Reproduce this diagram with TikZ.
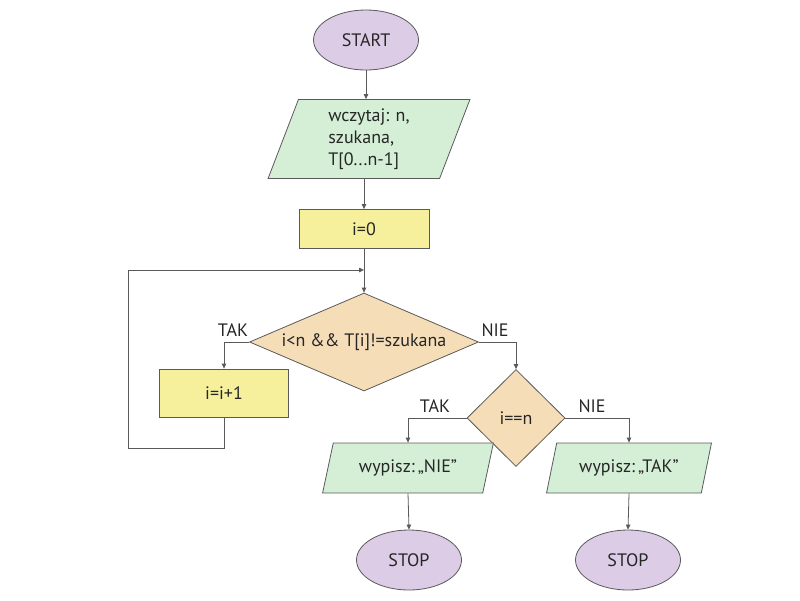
\documentclass[tikz,border=0pt]{standalone}
\usepackage{fontspec}
\setmainfont{PT Sans}
\usetikzlibrary{shapes.geometric,arrows.meta}
\definecolor{lin}{HTML}{5A5A5A}
\definecolor{term}{HTML}{DCCCE6}
\definecolor{io}{HTML}{D4EFD6}
\definecolor{proc}{HTML}{F6F09C}
\definecolor{dec}{HTML}{F5DDB8}
\tikzset{
  base/.style={draw=lin, line width=0.8pt, font=\fontsize{18}{22}\selectfont, text=black!85, inner sep=0pt},
  termbox/.style={base, ellipse, fill=term, minimum width=105pt, minimum height=60pt},
  iobox/.style={base, trapezium, trapezium stretches=true, fill=io},
  procbox/.style={base, rectangle, fill=proc, minimum width=130pt, minimum height=39pt},
  decbox/.style={base, diamond, fill=dec},
  arr/.style={draw=lin, line width=0.8pt, -{Triangle[length=5pt,width=4.5pt]}},
  ln/.style={draw=lin, line width=0.8pt},
  lbl/.style={font=\fontsize{18}{22}\selectfont, text=black!85, inner sep=1pt}
}
\begin{document}
\begin{tikzpicture}[x=1pt,y=-1pt]
\useasboundingbox (0,0) rectangle (800,600);
\node[termbox] (start) at (366,40) {START};
\node[iobox, trapezium left angle=74, trapezium right angle=106, minimum width=202pt, minimum height=79pt, align=left] (input) at (369,139) {wczytaj: n,\\szukana,\\T[0...n-1]};
\node[procbox] (init) at (364,229) {i=0};
\node[decbox, shape aspect=2.34, minimum width=229pt, minimum height=98pt] (d1) at (364,342) {i<n \&\& T[i]!=szukana};
\node[procbox, minimum width=129pt, minimum height=48pt] (inc) at (224,393) {i=i+1};
\node[decbox, shape aspect=1, minimum width=98pt, minimum height=97pt] (d2) at (516,418) {i==n};
\node[iobox, trapezium left angle=67, trapezium right angle=113, minimum width=171pt, minimum height=50pt] (outN) at (408,468) {wypisz:\,„NIE”};
\node[iobox, trapezium left angle=67, trapezium right angle=113, minimum width=165pt, minimum height=50pt] (outT) at (629,468) {wypisz:\,„TAK”};
\node[termbox] (stop1) at (409,560) {STOP};
\node[termbox] (stop2) at (628,560) {STOP};
\coordinate (join) at (364,270);
\coordinate (lc) at (128,448);
\node[lbl] (t1) at (233,330) {TAK};
\node[lbl] (n1) at (495,330) {NIE};
\node[lbl] (t2) at (435,406) {TAK};
\node[lbl] (n2) at (592,406) {NIE};
\draw[arr] (start.south) -- (start.south |- input.north);
\draw[arr] (init.north |- input.south) -- (init.north);
\draw[arr] (init.south) -- (d1.north);
\draw[arr] (d1.west) -| (inc.north);
\draw[ln] (inc.south) |- (lc);
\draw[arr] (lc) |- (join);
\draw[arr] (d1.east) -| (d2.north);
\draw[arr] (d2.west) -| (outN.north);
\draw[arr] (d2.east) -| (outT.north);
\draw[arr] (outN.south) -- (stop1.north);
\draw[arr] (outT.south) -- (stop2.north);
\end{tikzpicture}
\end{document}
